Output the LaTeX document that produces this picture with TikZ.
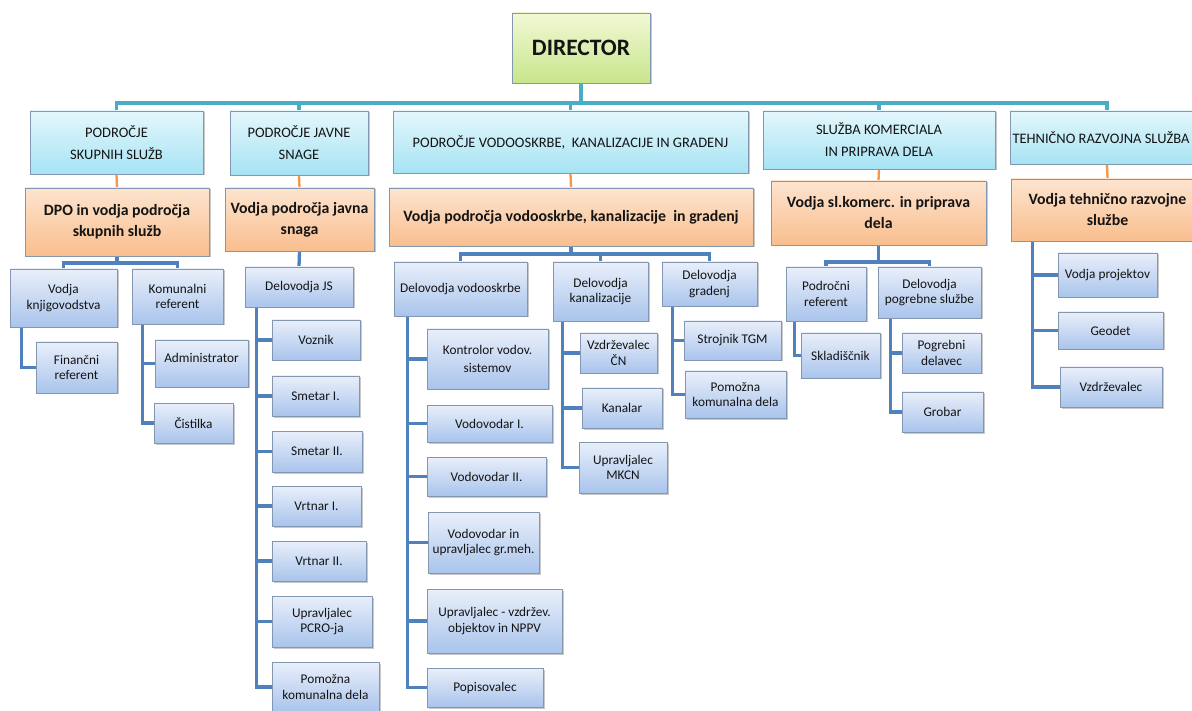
\documentclass[tikz,border=0pt]{standalone}
\usepackage{fontspec}
\setmainfont{Carlito}
\usetikzlibrary{shadows}
\pgfdeclarelayer{background}
\pgfsetlayers{background,main}
\definecolor{tealc}{HTML}{4BACC6}
\definecolor{orc}{HTML}{F79646}
\definecolor{blc}{HTML}{4F81BD}
\definecolor{boxborder}{HTML}{8497B0}
\definecolor{cytop}{HTML}{E4F7FC}
\definecolor{cybot}{HTML}{A6E3F4}
\definecolor{ortop}{HTML}{FDE4CF}
\definecolor{orbot}{HTML}{F9BE8E}
\definecolor{bltop}{HTML}{E9EFFA}
\definecolor{blbot}{HTML}{A9C4EC}
\definecolor{dirtop}{HTML}{F2F9D6}
\definecolor{dirbot}{HTML}{C7E58B}
\definecolor{txt}{HTML}{141414}
\tikzset{
 base/.style={draw=boxborder, line width=0.8pt, align=center, inner sep=1pt, text=txt,
   drop shadow={shadow xshift=1.5pt, shadow yshift=-1.5pt, opacity=0.35, fill=black!60}},
 dirbox/.style={base, top color=dirtop, bottom color=dirbot, font=\fontsize{23.5}{28}\selectfont\bfseries},
 cybox/.style={base, top color=cytop, bottom color=cybot, font=\fontsize{14.5}{22}\selectfont},
 orbox/.style={base, top color=ortop, bottom color=orbot, font=\fontsize{15.8}{21}\selectfont\bfseries},
 blbox/.style={base, top color=bltop, bottom color=blbot, font=\fontsize{13.3}{15.5}\selectfont},
 tl/.style={draw=tealc, line width=3.5pt},
 ol/.style={draw=orc, line width=2.3pt},
 bln/.style={draw=blc, line width=3.3pt},
}
\newcommand\bx[7]{\node[#1, minimum width={(#5-#3)*1pt}, minimum height={(#6-#4)*1pt}] (#2) at ({(#3+#5)/2},{(#4+#6)/2}) {#7};}
\begin{document}
\begin{tikzpicture}[x=1pt,y=-1pt]
\useasboundingbox (0,0) rectangle (1192,711);
\clip (0,0) rectangle (1192,711);
% top
\bx{dirbox}{dir}{512}{13}{650}{83}{DIRECTOR}
% level 1
\bx{cybox}{c1}{30}{111}{203}{174}{PODROČJE\\SKUPNIH SLUŽB}
\bx{cybox}{c2}{230}{111}{368}{175}{PODROČJE JAVNE\\SNAGE}
\bx{cybox}{c3}{393}{111}{748}{173}{PODROČJE VODOOSKRBE,\ \ KANALIZACIJE IN GRADENJ}
\bx{cybox}{c4}{763}{111}{995}{169}{SLUŽBA KOMERCIALA\\IN PRIPRAVA DELA}
\bx{cybox}{c5}{1010}{111}{1204}{164}{TEHNIČNO RAZVOJNA SLUŽBA\hspace*{12pt}}
% level 2
\bx{orbox}{o1}{25}{188}{209}{256}{DPO in vodja področja\\skupnih služb}
\bx{orbox}{o2}{225}{188}{374}{251}{Vodja področja javna\\snaga}
\bx{orbox}{o3}{389}{188}{753}{246}{Vodja področja vodooskrbe, kanalizacije\ \ in gradenj}
\bx{orbox}{o4}{771}{181}{986}{245}{Vodja sl.komerc. in priprava\\dela}
\bx{orbox}{o5}{1011}{179}{1204}{241}{Vodja tehnično razvojne\\službe}
% column 1
\bx{blbox}{kn}{10}{269}{117}{327}{Vodja\\knjigovodstva}
\bx{blbox}{kom}{132}{269}{223}{324}{Komunalni\\referent}
\bx{blbox}{fin}{36}{342}{117}{393}{Finančni\\referent}
\bx{blbox}{adm}{155}{340}{248}{387}{Administrator\\[-4pt]\mbox{}}
\bx{blbox}{cis}{154}{403}{233}{443}{Čistilka}
% column 2
\bx{blbox}{djs}{245}{267}{353}{307}{Delovodja JS}
\bx{blbox}{voz}{272}{320}{360}{360}{Voznik}
\bx{blbox}{sm1}{272}{376}{359}{416}{Smetar I.}
\bx{blbox}{sm2}{272}{431}{362}{472}{Smetar II.}
\bx{blbox}{vr1}{272}{486}{361}{526}{Vrtnar I.}
\bx{blbox}{vr2}{272}{541}{366}{581}{Vrtnar II.}
\bx{blbox}{pcro}{272}{596}{372}{647}{Upravljalec\\PCRO-ja}
\bx{blbox}{pkd}{272}{662}{379}{712}{Pomožna\\komunalna dela}
% column 3
\bx{blbox}{dvo}{394}{262}{527}{316}{Delovodja vodooskrbe}
\bx{blbox}{kon}{427}{329}{548}{389}{Kontrolor vodov.\\[3pt]sistemov}
\bx{blbox}{vv1}{427}{405}{552}{442}{Vodovodar I.}
\bx{blbox}{vv2}{427}{457}{546}{496}{Vodovodar II.}
\bx{blbox}{vvu}{428}{512}{539}{573}{Vodovodar in\\upravljalec gr.meh.}
\bx{blbox}{uvo}{427}{589}{562}{653}{Upravljalec - vzdržev.\\objektov in NPPV}
\bx{blbox}{pop}{427}{668}{543}{707}{Popisovalec}
\bx{blbox}{dka}{553}{262}{648}{321}{Delovodja\\kanalizacije}
\bx{blbox}{vcn}{580}{333}{657}{373}{Vzdrževalec\\ČN}
\bx{blbox}{kan}{582}{388}{662}{428}{Kanalar}
\bx{blbox}{mkcn}{579}{442}{667}{493}{Upravljalec\\MKCN}
\bx{blbox}{dgr}{662}{262}{757}{306}{Delovodja\\gradenj}
\bx{blbox}{tgm}{684}{321}{781}{360}{Strojnik TGM}
\bx{blbox}{pkd2}{685}{371}{786}{418}{Pomožna\\komunalna dela}
% column 4
\bx{blbox}{pref}{786}{267}{866}{321}{Področni\\referent}
\bx{blbox}{dpog}{878}{267}{981}{318}{Delovodja\\pogrebne službe}
\bx{blbox}{skl}{801}{333}{880}{378}{Skladiščnik}
\bx{blbox}{pdel}{902}{333}{981}{373}{Pogrebni\\delavec}
\bx{blbox}{grob}{902}{392}{983}{432}{Grobar}
% column 5
\bx{blbox}{vpro}{1058}{253}{1157}{297}{Vodja projektov}
\bx{blbox}{geo}{1058}{312}{1163}{349}{Geodet}
\bx{blbox}{vzd}{1060}{367}{1162}{407}{Vzdrževalec}
% connectors
\begin{pgfonlayer}{background}
\fill[white] (0,0) rectangle (1192,711);
\coordinate (bus0) at (0,103);
\draw[tl] (dir.south) -- (dir.south |- bus0);
\draw[tl] (c1.north) -- (c1.north |- bus0) -| (c5.north);
\draw[tl] (c2.north) -- (c2.north |- bus0);
\draw[tl] (c3.north) -- (c3.north |- bus0);
\draw[tl] (c4.north) -- (c4.north |- bus0);
\draw[ol] (c1.south) -- (o1.north);
\draw[ol] (c2.south) -- (o2.north);
\draw[ol] (c3.south) -- (o3.north);
\draw[ol] (c4.south) -- (o4.north);
\draw[ol] (c5.south) -- (o5.north);
% col 1
\coordinate (b1) at (0,263);
\draw[bln] (o1.south) -- (o1.south |- b1);
\draw[bln] (kn.north) -- (kn.north |- b1) -| (kom.north);
\draw[bln] ([xshift=12pt]kn.south west) |- (fin.west);
\draw[bln] ([xshift=11pt]kom.south west) |- (cis.west);
\draw[bln] ([xshift=11pt]kom.south west) |- (adm.west);
% col 2
\draw[bln] (o2.south) -- (djs.north);
\foreach \n in {voz,sm1,sm2,vr1,vr2,pcro,pkd}
  \draw[bln] ([xshift=12pt]djs.south west) |- (\n.west);
% col 3
\coordinate (b3) at (0,254);
\draw[bln] (o3.south) -- (o3.south |- b3);
\draw[bln] (dvo.north) -- (dvo.north |- b3) -| (dgr.north);
\draw[bln] (dka.north) -- (dka.north |- b3);
\foreach \n in {kon,vv1,vv2,vvu,uvo,pop}
  \draw[bln] ([xshift=14pt]dvo.south west) |- (\n.west);
\foreach \n in {vcn,kan,mkcn}
  \draw[bln] ([xshift=10pt]dka.south west) |- (\n.west);
\foreach \n in {tgm,pkd2}
  \draw[bln] ([xshift=11pt]dgr.south west) |- (\n.west);
% col 4
\coordinate (b4) at (0,262);
\draw[bln] (o4.south) -- (o4.south |- b4);
\draw[bln] (pref.north) -- (pref.north |- b4) -| (dpog.north);
\draw[bln] ([xshift=9pt]pref.south west) |- (skl.west);
\foreach \n in {pdel,grob}
  \draw[bln] ([xshift=13pt]dpog.south west) |- (\n.west);
% col 5
\foreach \n in {vpro,geo,vzd}
  \draw[bln] ([xshift=22pt]o5.south west) |- (\n.west);
\end{pgfonlayer}
\end{tikzpicture}
\end{document}
